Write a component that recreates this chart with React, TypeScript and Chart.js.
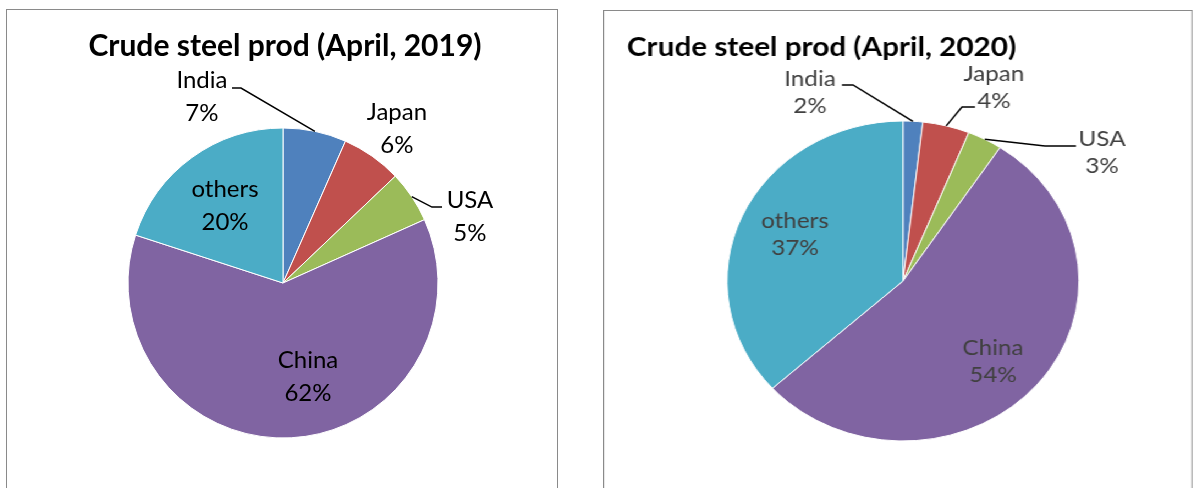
import React, { useEffect, useRef } from 'react';
import { Chart, registerables } from 'chart.js';

Chart.register(...registerables);

const categories = ['India', 'Japan', 'USA', 'China', 'others'];
const values2019 = [6.6, 6.3, 5.4, 61.7, 20.0];
const values2020 = [1.8, 4.3, 3.2, 54.0, 36.7];
const title2019 = 'Crude steel prod (April, 2019)';
const title2020 = 'Crude steel prod (April, 2020)';
const sliceColors = ['#4F81BD', '#C0504D', '#9BBB59', '#8064A2', '#4BACC6'];

type Layout = {
  width: number;
  height: number;
  cx: number;
  cy: number;
  radius: number;
  labelPos: number[][];
  leaders: (number[] | null)[];
  lineGap: number;
  labelFont: string;
  labelColor: string;
  title: string;
  titleFont: string;
  titleAlign: CanvasTextAlign;
  titleX: number;
  titleY: number;
};

const layout2019: Layout = {
  width: 550,
  height: 478,
  cx: 276,
  cy: 273,
  radius: 155,
  labelPos: [
    [-0.523, -1.2],
    [0.735, -0.997],
    [1.206, -0.426],
    [0.161, 0.603],
    [-0.374, -0.497],
  ],
  leaders: [[-0.329, -1.258, -0.271, -1.258], null, [1.026, -0.49, 0.961, -0.49], null, null],
  lineGap: 33,
  labelFont: '24px Lato',
  labelColor: '#000000',
  title: title2019,
  titleFont: 'bold 30px Lato',
  titleAlign: 'center',
  titleX: 278,
  titleY: 46,
};

const layout2020: Layout = {
  width: 534,
  height: 477,
  cx: 271.7,
  cy: 270,
  radius: 160,
  labelPos: [
    [-0.528, -1.178],
    [0.517, -1.212],
    [1.131, -0.803],
    [0.511, 0.503],
    [-0.614, -0.291],
  ],
  leaders: [
    [-0.347, -1.225, -0.284, -1.225],
    [0.409, -1.0875, 0.335, -1.0875],
    [0.983, -0.844, 0.807, -0.844],
    null,
    null,
  ],
  lineGap: 27,
  labelFont: '22px Lato',
  labelColor: '#404040',
  title: title2020,
  titleFont: 'bold 27px Lato',
  titleAlign: 'left',
  titleX: 20.8,
  titleY: 45,
};

function PieChart({ values, layout }: { values: number[]; layout: Layout }) {
  const ref = useRef<HTMLCanvasElement | null>(null);
  useEffect(() => {
    if (!ref.current) return;
    const L = layout;
    const pad = { left: 0, right: 0, top: 0, bottom: 0 };
    if (L.cx * 2 <= L.width) pad.right = L.width - 2 * L.cx;
    else pad.left = 2 * L.cx - L.width;
    if (L.cy * 2 <= L.height) pad.bottom = L.height - 2 * L.cy;
    else pad.top = 2 * L.cy - L.height;

    const labelPlugin = {
      id: 'sliceLabels',
      afterDatasetsDraw(chart: any) {
        const ctx = chart.ctx as CanvasRenderingContext2D;
        const meta = chart.getDatasetMeta(0);
        const data = chart.data.datasets[0].data as number[];
        const total = data.reduce((a, b) => a + b, 0);
        ctx.save();
        meta.data.forEach((arc: any, i: number) => {
          const p = arc.getProps(['x', 'y', 'outerRadius', 'startAngle', 'endAngle'], true);
          const R = p.outerRadius;
          const mid = (p.startAngle + p.endAngle) / 2;
          const lead = L.leaders[i];
          if (lead) {
            ctx.beginPath();
            ctx.moveTo(p.x + lead[0] * R, p.y + lead[1] * R);
            ctx.lineTo(p.x + lead[2] * R, p.y + lead[3] * R);
            ctx.lineTo(p.x + Math.cos(mid) * R, p.y + Math.sin(mid) * R);
            ctx.strokeStyle = '#000000';
            ctx.lineWidth = 1.5;
            ctx.stroke();
          }
          const lx = p.x + L.labelPos[i][0] * R;
          const ly = p.y + L.labelPos[i][1] * R;
          ctx.font = L.labelFont;
          ctx.fillStyle = L.labelColor;
          ctx.textAlign = 'center';
          ctx.textBaseline = 'middle';
          ctx.fillText(String(chart.data.labels[i]), lx, ly - L.lineGap / 2);
          ctx.fillText(Math.round((data[i] / total) * 100) + '%', lx, ly + L.lineGap / 2);
        });
        ctx.font = L.titleFont;
        ctx.fillStyle = '#000000';
        ctx.textAlign = L.titleAlign;
        ctx.textBaseline = 'alphabetic';
        ctx.fillText(L.title, L.titleX, L.titleY);
        ctx.restore();
      },
    };

    const chart = new Chart(ref.current, {
      type: 'pie',
      data: {
        labels: categories,
        datasets: [
          {
            data: values,
            backgroundColor: sliceColors,
            borderColor: '#ffffff',
            borderWidth: 1,
          },
        ],
      },
      options: {
        responsive: false,
        animation: false,
        devicePixelRatio: 1,
        radius: L.radius,
        layout: { padding: pad },
        plugins: {
          legend: { display: false },
          tooltip: { enabled: false },
          title: { display: false },
        },
      } as any,
      plugins: [labelPlugin],
    });
    return () => chart.destroy();
  }, [values, layout]);
  return (
    <canvas
      ref={ref}
      width={layout.width}
      height={layout.height}
      style={{ position: 'absolute', left: 0, top: 0, width: layout.width, height: layout.height }}
    />
  );
}

export default function App() {
  return (
    <div
      style={{
        position: 'fixed',
        left: 0,
        top: 0,
        width: 1198,
        height: 488,
        overflow: 'hidden',
        background: '#ffffff',
      }}
    >
      <div
        style={{
          position: 'absolute',
          left: 6,
          top: 9,
          width: 550,
          height: 500,
          border: '1px solid #8a8a8a',
          boxSizing: 'content-box',
        }}
      >
        <PieChart values={values2019} layout={layout2019} />
      </div>
      <div
        style={{
          position: 'absolute',
          left: 603,
          top: 10,
          width: 534,
          height: 500,
          border: '1px solid #8a8a8a',
          boxSizing: 'content-box',
          transform: 'scaleX(1.1)',
          transformOrigin: '0 0',
        }}
      >
        <PieChart values={values2020} layout={layout2020} />
      </div>
    </div>
  );
}
